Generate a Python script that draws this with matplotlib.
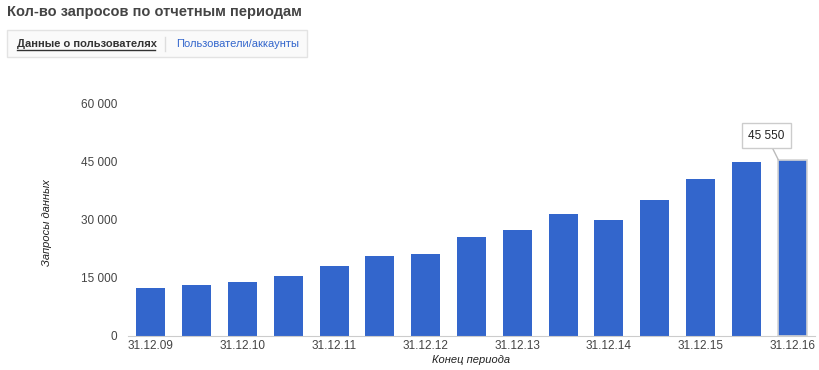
import numpy as np
import matplotlib
matplotlib.use('Agg')
import matplotlib.pyplot as plt
from matplotlib.patches import Rectangle
from matplotlib.lines import Line2D

plt.rcParams['font.family'] = ['Liberation Sans', 'DejaVu Sans']

# periods (half-years), label shown on every second bar
periods = ['31.12.09', '30.06.10', '31.12.10', '30.06.11', '31.12.11', '30.06.12',
           '31.12.12', '30.06.13', '31.12.13', '30.06.14', '31.12.14', '30.06.15',
           '31.12.15', '30.06.16', '31.12.16']
requests = [12500, 13200, 14000, 15500, 18100, 20700, 21200, 25600, 27400,
            31500, 30000, 35200, 40600, 45000, 45550]
y_ticks = [0, 15000, 30000, 45000, 60000]
y_tick_labels = ['0', '15 000', '30 000', '45 000', '60 000']

title = 'Кол-во запросов по отчетным периодам'
tab_active = 'Данные о пользователях'
tab_other = 'Пользователи/аккаунты'
x_title = 'Конец периода'
y_title = 'Запросы данных'

BLUE = '#3366cc'
W, H = 819, 370

fig = plt.figure(figsize=(W / 100, H / 100), dpi=100)
ax = fig.add_axes([128 / W, 34 / H, 687 / W, 232 / H])

x = np.arange(len(periods))
bars = ax.bar(x, requests, width=0.63, color=BLUE, zorder=2)
# highlighted (hovered) last bar
bars[-1].set_edgecolor('#d4d4d4')
bars[-1].set_linewidth(1.2)

ax.set_xlim(-0.5, len(periods) - 0.5)
ax.set_ylim(0, 60000)
ax.set_yticks(y_ticks)
ax.set_yticklabels(y_tick_labels)
ax.set_xticks(x[::2])
ax.set_xticklabels(periods[::2])
ax.tick_params(axis='both', length=0, labelsize=8.5, colors='#444444')
ax.tick_params(axis='y', pad=8)
ax.tick_params(axis='x', pad=3)

for s in ['top', 'right', 'left']:
    ax.spines[s].set_visible(False)
ax.spines['bottom'].set_color('#cccccc')

ax.set_xlabel(x_title, fontsize=8, style='italic', color='#222222', labelpad=2)
ax.set_ylabel(y_title, fontsize=8, style='italic', color='#222222')
ax.yaxis.set_label_coords(-76 / 687, 0.49)

# tooltip on last bar
last = len(periods) - 1
ax.annotate(f'{requests[last]:,}'.replace(',', ' '),
            xy=(last - 0.3, requests[last]), xytext=(-12, 24),
            textcoords='offset pixels', ha='center', va='center',
            fontsize=8.5, color='#222222',
            bbox=dict(boxstyle='square,pad=0.55', fc='white', ec='#cccccc', lw=1),
            arrowprops=dict(arrowstyle='-', color='#bbbbbb', lw=1, shrinkA=0, shrinkB=0),
            zorder=5)

# header
fig.text(7 / W, 1 - 12 / H, title, fontsize=10.5, fontweight='bold',
         color='#444444', ha='left', va='center')
fig.patches.append(Rectangle((7 / W, 1 - 57 / H), 300 / W, 27 / H,
                             transform=fig.transFigure, fc='#fafafa',
                             ec='#e3e3e3', lw=1))
fig.text(17 / W, 1 - 44 / H, tab_active, fontsize=8, fontweight='bold',
         color='#333333', ha='left', va='center')
fig.lines.append(Line2D([17 / W, 155 / W], [1 - 50 / H, 1 - 50 / H],
                        transform=fig.transFigure, color='#333333', lw=1))
fig.lines.append(Line2D([165 / W, 165 / W], [1 - 51 / H, 1 - 37 / H],
                        transform=fig.transFigure, color='#dddddd', lw=1))
fig.text(176 / W, 1 - 44 / H, tab_other, fontsize=8, color='#3366cc',
         ha='left', va='center')

fig.savefig('out.png', dpi=100)
